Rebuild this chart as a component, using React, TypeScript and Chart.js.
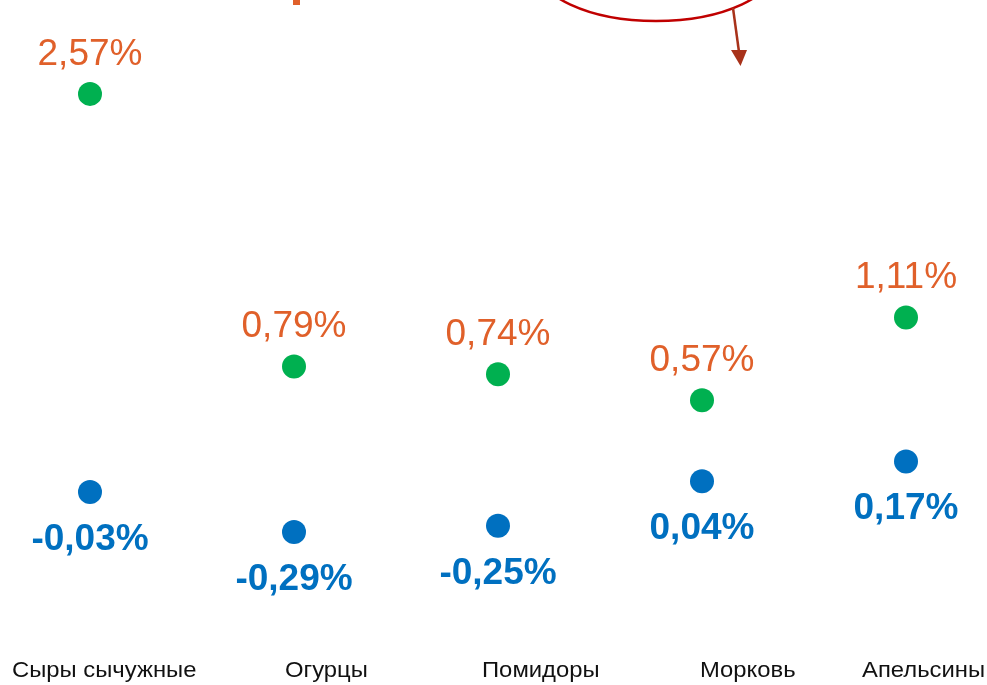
import React, { useEffect, useRef } from "react";
import { Chart, registerables } from "chart.js";

Chart.register(...registerables);

const categories = ["Сыры сычужные", "Огурцы", "Помидоры", "Морковь", "Апельсины"];
const upperValues = [2.57, 0.79, 0.74, 0.57, 1.11];
const lowerValues = [-0.03, -0.29, -0.25, 0.04, 0.17];

const ORANGE = "#E0602A";
const GREEN = "#00B050";
const BLUE = "#0070C0";
const FONT = "'Liberation Sans', Arial, sans-serif";
const OFFSET_X = 12; // canvas shifted left by this many px
// category text boxes are not centred under the markers in the original slide
const TICK_TEXT_SHIFT = [-78, -9, -16, -2, -44];
const TICK_STRETCH = 1.083;

const fmt = (v: number) => v.toFixed(2).replace(".", ",") + "%";

const labelsPlugin = {
  id: "valueLabels",
  afterDatasetsDraw(chart: any) {
    const ctx = chart.ctx;
    ctx.save();
    ctx.textAlign = "center";
    ctx.textBaseline = "alphabetic";
    chart.data.datasets.forEach((ds: any, di: number) => {
      const meta = chart.getDatasetMeta(di);
      meta.data.forEach((el: any, i: number) => {
        const v = ds.data[i];
        if (di === 0) {
          ctx.font = `normal 37px ${FONT}`;
          ctx.fillStyle = ORANGE;
          ctx.fillText(fmt(v), el.x, el.y - 29);
        } else {
          ctx.font = `bold 37px ${FONT}`;
          ctx.fillStyle = BLUE;
          ctx.fillText(fmt(v), el.x, el.y + 58);
        }
      });
    });
    ctx.restore();
  },
};

const tickTextPlugin = {
  id: "tickText",
  afterDraw(chart: any) {
    const ctx = chart.ctx;
    const xs = chart.scales.x;
    ctx.save();
    ctx.font = `normal 22px ${FONT}`;
    ctx.fillStyle = "#111111";
    ctx.textAlign = "left";
    ctx.textBaseline = "alphabetic";
    const baseY = chart.chartArea.bottom + 23;
    chart.data.labels.forEach((lab: string, i: number) => {
      const x = xs.getPixelForTick(i) + TICK_TEXT_SHIFT[i];
      ctx.save();
      ctx.translate(x, baseY);
      ctx.scale(TICK_STRETCH, 1);
      ctx.fillText(lab, 0, 0);
      ctx.restore();
    });
    ctx.restore();
  },
};

const decorPlugin = {
  id: "decor",
  afterDraw(chart: any) {
    const ctx = chart.ctx;
    ctx.save();
    // fragment of cut-off title
    ctx.fillStyle = ORANGE;
    ctx.fillRect(293 + OFFSET_X, 0, 7, 5);
    // red ellipse callout (mostly above the visible area)
    ctx.strokeStyle = "#C00000";
    ctx.lineWidth = 2.5;
    ctx.beginPath();
    ctx.ellipse(656 + OFFSET_X, -35, 121, 56, 0, 0, Math.PI * 2);
    ctx.stroke();
    // arrow
    ctx.strokeStyle = "#A8321A";
    ctx.fillStyle = "#A8321A";
    ctx.lineWidth = 2.5;
    ctx.beginPath();
    ctx.moveTo(733 + OFFSET_X, 8);
    ctx.lineTo(739 + OFFSET_X, 52);
    ctx.stroke();
    ctx.beginPath();
    ctx.moveTo(731 + OFFSET_X, 50);
    ctx.lineTo(747 + OFFSET_X, 50);
    ctx.lineTo(740.5 + OFFSET_X, 66);
    ctx.closePath();
    ctx.fill();
    ctx.restore();
  },
};

export default function App() {
  const ref = useRef<HTMLCanvasElement>(null);
  useEffect(() => {
    if (!ref.current) return;
    const chart = new Chart(ref.current, {
      type: "line",
      data: {
        labels: categories,
        datasets: [
          {
            data: upperValues,
            showLine: false,
            pointRadius: 12,
            pointHoverRadius: 12,
            pointBackgroundColor: GREEN,
            pointBorderWidth: 0,
            borderColor: GREEN,
            clip: false,
          },
          {
            data: lowerValues,
            showLine: false,
            pointRadius: 12,
            pointHoverRadius: 12,
            pointBackgroundColor: BLUE,
            pointBorderWidth: 0,
            borderColor: BLUE,
            clip: false,
          },
        ],
      },
      options: {
        animation: false,
        responsive: false,
        maintainAspectRatio: false,
        layout: { autoPadding: false, padding: { top: 0, bottom: 0, left: 0, right: 0 } },
        plugins: {
          legend: { display: false },
          tooltip: { enabled: false },
          title: { display: false },
        },
        scales: {
          x: {
            type: "category",
            offset: true,
            grid: { display: false, drawTicks: false },
            border: { display: false },
            ticks: {
              color: "rgba(0,0,0,0)",
              font: { family: FONT, size: 21 },
              padding: 3,
              maxRotation: 0,
              autoSkip: false,
            },
          },
          y: {
            display: false,
            min: -1.086,
            max: 3.183,
          },
        },
      },
      plugins: [labelsPlugin, tickTextPlugin, decorPlugin],
    });
    return () => chart.destroy();
  }, []);

  return (
    <div
      style={{
        position: "fixed",
        left: 0,
        top: 0,
        width: 987,
        height: 685,
        overflow: "hidden",
        background: "#ffffff",
      }}
    >
      <canvas
        ref={ref}
        width={1020}
        height={685}
        style={{ position: "absolute", left: -OFFSET_X, top: 0, width: 1020, height: 685 }}
      />
    </div>
  );
}
